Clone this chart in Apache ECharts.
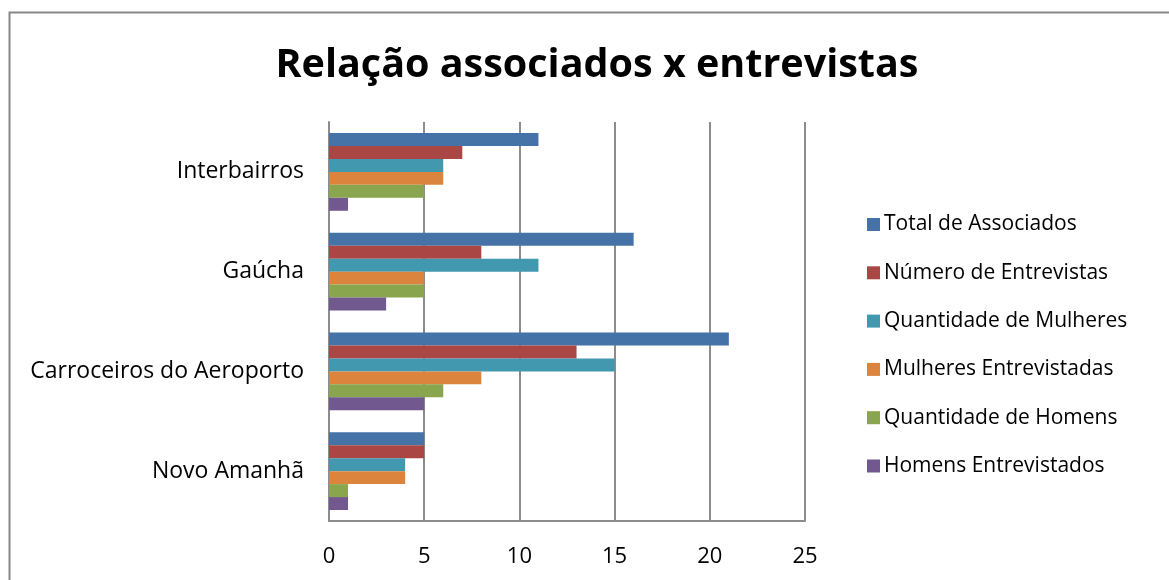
<!DOCTYPE html>
<html>
<head>
<meta charset="utf-8">
<script src="https://cdn.jsdelivr.net/npm/echarts@6/dist/echarts.min.js"></script>
<style>
  html, body { margin: 0; padding: 0; background: #fff; }
  #main { width: 1169px; height: 580px; }
</style>
</head>
<body>
<div id="main"></div>
<script>
// categorias (de cima para baixo)
const categorias = ['Interbairros', 'Gaúcha', 'Carroceiros do Aeroporto', 'Novo Amanhã']

// séries
const totalAssociados = [11, 16, 21, 5]
const numeroEntrevistas = [7, 8, 13, 5]
const qtdMulheres = [6, 11, 15, 4]
const mulheresEntrevistadas = [6, 5, 8, 4]
const qtdHomens = [5, 5, 6, 1]
const homensEntrevistados = [1, 3, 5, 1]

const nomes = ['Total de Associados', 'Número de Entrevistas', 'Quantidade de Mulheres',
  'Mulheres Entrevistadas', 'Quantidade de Homens', 'Homens Entrevistados']
const valores = [totalAssociados, numeroEntrevistas, qtdMulheres, mulheresEntrevistadas, qtdHomens, homensEntrevistados]
const cores = ['#4572A7', '#AA4643', '#4198AF', '#DB843D', '#89A54E', '#71588F']

const fonte = '"Open Sans", "Noto Sans", sans-serif'

var myChart = echarts.init(document.getElementById('main'))

var option = {
  animation: false,
  color: cores,
  textStyle: { fontFamily: fonte },
  title: {
    text: 'Relação associados x entrevistas',
    left: 592,
    textAlign: 'center',
    top: 41,
    textStyle: { fontSize: 39.5, fontWeight: 'bold', color: '#000', fontFamily: fonte }
  },
  // moldura cinza do gráfico
  graphic: [{
    type: 'rect',
    shape: { x: 9.5, y: 12.5, width: 1300, height: 700 },
    style: { fill: 'none', stroke: '#888', lineWidth: 2 },
    silent: true
  }],
  legend: {
    orient: 'vertical',
    left: 862,
    top: 209,
    itemWidth: 13,
    itemHeight: 13,
    itemGap: 27.3,
    icon: 'rect',
    data: nomes,
    textStyle: { fontSize: 21, color: '#000', fontFamily: fonte, padding: [0, 0, 0, -1] }
  },
  grid: { left: 329, right: 364, top: 122, bottom: 59 },
  xAxis: {
    type: 'value',
    min: 0,
    max: 25,
    interval: 5,
    axisLine: { show: true, lineStyle: { color: '#8c8c8c', width: 2 } },
    axisTick: { show: false },
    splitLine: { show: true, lineStyle: { color: '#8c8c8c', width: 2 } },
    axisLabel: { fontSize: 22, color: '#000', margin: 25 }
  },
  yAxis: {
    type: 'category',
    inverse: true,
    data: categorias,
    axisLine: { show: true, lineStyle: { color: '#8c8c8c', width: 2 } },
    axisTick: { show: false },
    axisLabel: { fontSize: 23, color: '#000', margin: 25 }
  },
  series: nomes.map((n, i) => ({
    name: n,
    type: 'bar',
    data: valores[i],
    barGap: '0%',
    barCategoryGap: '22%'
  }))
}

option && myChart.setOption(option)
</script>
</body>
</html>
